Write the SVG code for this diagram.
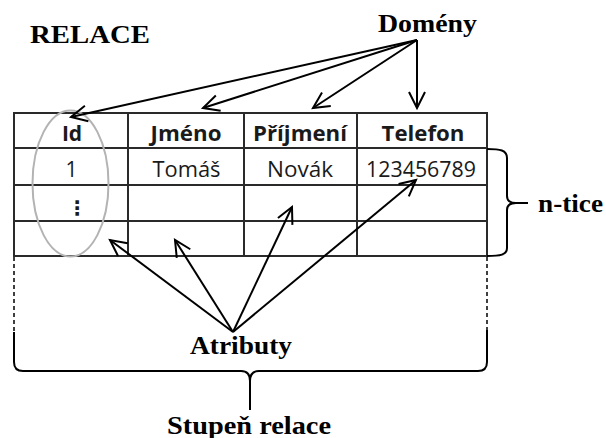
<svg xmlns="http://www.w3.org/2000/svg" width="606" height="438" viewBox="0 0 606 438">
  <style>
    .title { font-family: "Liberation Serif", "Times New Roman", serif; font-weight: bold; font-size: 25px; fill: #000; }
    .cell { font-family: "Open Sans", "Liberation Sans", sans-serif; font-size: 21px; fill: #1a1a1a; text-anchor: middle; }
    .head { font-weight: bold; }
    .grid { fill: none; stroke: #2a2a2a; stroke-width: 2; }
    .arrow { fill: none; stroke: #000; stroke-width: 2; marker-end: url(#open); }
    .brace { fill: none; stroke: #000; stroke-width: 2; }
    .dash { fill: none; stroke: #000; stroke-width: 1.5; stroke-dasharray: 4 3; }
  </style>
  <defs>
    <marker id="open" markerUnits="userSpaceOnUse" markerWidth="24" markerHeight="24" viewBox="-20 -12 24 24" refX="0" refY="0" orient="auto">
      <path d="M-16,-8 L0,0 L-16,8" fill="none" stroke="#000" stroke-width="2" stroke-linejoin="miter"/>
    </marker>
  </defs>
  <rect width="606" height="438" fill="#fff"/>

  <!-- heading -->
  <g id="relace">
    <text class="title" x="30" y="43" textLength="120" lengthAdjust="spacingAndGlyphs">RELACE</text>
  </g>

  <!-- relation table -->
  <g id="table">
    <rect class="grid" x="14" y="113" width="473" height="143"/>
    <path class="grid" d="M14,148 H487 M14,185 H487 M14,221 H487 M128,113 V256 M244,113 V256 M357,113 V256"/>
    <text class="cell head" x="72" y="140.5">Id</text>
    <text class="cell head" x="186" y="140.5" textLength="71" lengthAdjust="spacingAndGlyphs">Jméno</text>
    <text class="cell head" x="300" y="140.5" textLength="94" lengthAdjust="spacingAndGlyphs">Příjmení</text>
    <text class="cell head" x="423" y="140.5" textLength="83" lengthAdjust="spacingAndGlyphs">Telefon</text>
    <text class="cell" x="71.5" y="176.5">1</text>
    <text class="cell" x="186.5" y="176.5" textLength="68" lengthAdjust="spacingAndGlyphs">Tomáš</text>
    <text class="cell" x="300" y="176.5" textLength="66" lengthAdjust="spacingAndGlyphs">Novák</text>
    <text class="cell" x="421" y="176.5" textLength="110" lengthAdjust="spacingAndGlyphs">123456789</text>
    <text class="cell head" x="77" y="215" style="font-family: 'DejaVu Sans', sans-serif; font-size: 20px;">⋮</text>
  </g>

  <!-- key column highlight -->
  <g id="key-ellipse">
    <ellipse cx="70.5" cy="183.5" rx="38" ry="73" fill="none" stroke="#b3b3b3" stroke-width="2"/>
  </g>

  <!-- labels -->
  <g id="domeny">
    <text class="title" x="378" y="32" textLength="99" lengthAdjust="spacingAndGlyphs">Domény</text>
  </g>
  <g id="atributy">
    <text class="title" x="190" y="354" textLength="102" lengthAdjust="spacingAndGlyphs">Atributy</text>
  </g>
  <g id="ntice">
    <text class="title" x="538" y="212" textLength="65" lengthAdjust="spacingAndGlyphs">n-tice</text>
  </g>
  <g id="stupen">
    <text class="title" x="167" y="434" textLength="164" lengthAdjust="spacingAndGlyphs">Stupeň relace</text>
  </g>

  <!-- connectors -->
  <g id="connectors">
    <line class="arrow" x1="417" y1="40" x2="71" y2="117"/>
    <line class="arrow" x1="417" y1="40" x2="203" y2="108"/>
    <line class="arrow" x1="417" y1="40" x2="313" y2="108"/>
    <line class="arrow" x1="417" y1="40" x2="417" y2="108"/>
    <line class="arrow" x1="233" y1="332" x2="110" y2="240"/>
    <line class="arrow" x1="233" y1="332" x2="175" y2="240"/>
    <line class="arrow" x1="233" y1="332" x2="292" y2="207"/>
    <line class="arrow" x1="233" y1="332" x2="416" y2="180"/>
    <path class="brace" d="M487,149 C500,149 507,150 507,158 L507,196 C507,201 510,203 516,203 L528,203 M516,203 C510,203 507,205 507,210 L507,248 C507,255 500,256 487,256"/>
    <path class="dash" d="M14,257 V332 M487,257 V330"/>
    <path class="brace" d="M14,332 V362 Q14,371 23,371 H241 Q250,371 250,381 V410 M250,381 Q250,371 259,371 H478 Q487,371 487,362 V330"/>
  </g>
</svg>
